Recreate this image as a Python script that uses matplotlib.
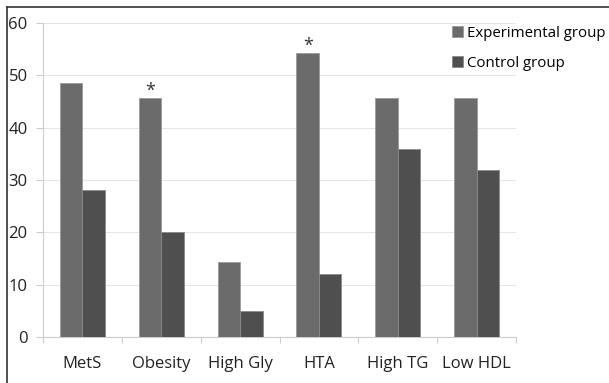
import numpy as np
import matplotlib.pyplot as plt
from matplotlib.lines import Line2D

categories = ["MetS", "Obesity", "High Gly", "HTA", "High TG", "Low HDL"]
experimental = [48.6, 45.6, 14.3, 54.2, 45.6, 45.6]
control = [28.0, 20.0, 5.0, 12.0, 36.0, 32.0]
significant = [False, True, False, True, False, False]
yticks = [0, 10, 20, 30, 40, 50, 60]

plt.rcParams['font.family'] = ['Open Sans', 'DejaVu Sans']

fig = plt.figure(figsize=(6.09, 3.83), dpi=100)
ax = fig.add_axes([43/609, 1 - 337/383, (516 - 43)/609, (337 - 23)/383])

x = np.arange(len(categories))
w = 0.285
ax.bar(x - w/2, experimental, w, color='#6b6b6b', edgecolor='#9a9a9a', linewidth=0.6,
       label='Experimental group', zorder=3)
ax.bar(x + w/2, control, w, color='#4f4f4f', edgecolor='#8a8a8a', linewidth=0.6,
       label='Control group', zorder=3)

# significance marks
for i, s in enumerate(significant):
    if s:
        ax.text(x[i] - w/2, experimental[i] - 0.3, '*', ha='center', va='bottom',
                fontsize=13, color='#333333')

ax.set_xlim(-0.5, len(categories) - 0.5)
ax.set_ylim(0, 60)
ax.set_yticks(yticks)
ax.yaxis.grid(True, color='#e6e6e6', linewidth=0.8, zorder=0)
ax.set_axisbelow(True)

# category boundary ticks on the x axis
ax.set_xticks(np.arange(-0.5, len(categories)), minor=False)
ax.set_xticklabels([])
ax.set_xticks(x, minor=True)
ax.set_xticklabels(categories, minor=True)
ax.tick_params(axis='x', which='major', length=4, color='#cccccc', width=0.8)
ax.tick_params(axis='x', which='minor', length=0, labelsize=12, pad=14, labelcolor='#222222')
ax.tick_params(axis='y', length=5, color='#cccccc', width=0.8, labelsize=12,
               pad=6, labelcolor='#222222')

for side in ['top', 'right']:
    ax.spines[side].set_visible(False)
for side in ['left', 'bottom']:
    ax.spines[side].set_color('#cccccc')
    ax.spines[side].set_linewidth(0.8)

ax.legend(loc='upper left', bbox_to_anchor=(452/609, 1 - 26/383),
          bbox_transform=fig.transFigure, frameon=False, fontsize=10.8,
          handlelength=0.75, handleheight=0.75, handletextpad=0.25,
          labelspacing=1.0, borderaxespad=0, borderpad=0)

# outer frame (left and top only)
fig.add_artist(Line2D([7/609, 7/609], [0, 1 - 7/383], transform=fig.transFigure,
                      color='#333333', linewidth=1.2))
fig.add_artist(Line2D([7/609, 1], [1 - 7/383, 1 - 7/383], transform=fig.transFigure,
                      color='#333333', linewidth=1.2))

fig.savefig('out.png', dpi=100)
